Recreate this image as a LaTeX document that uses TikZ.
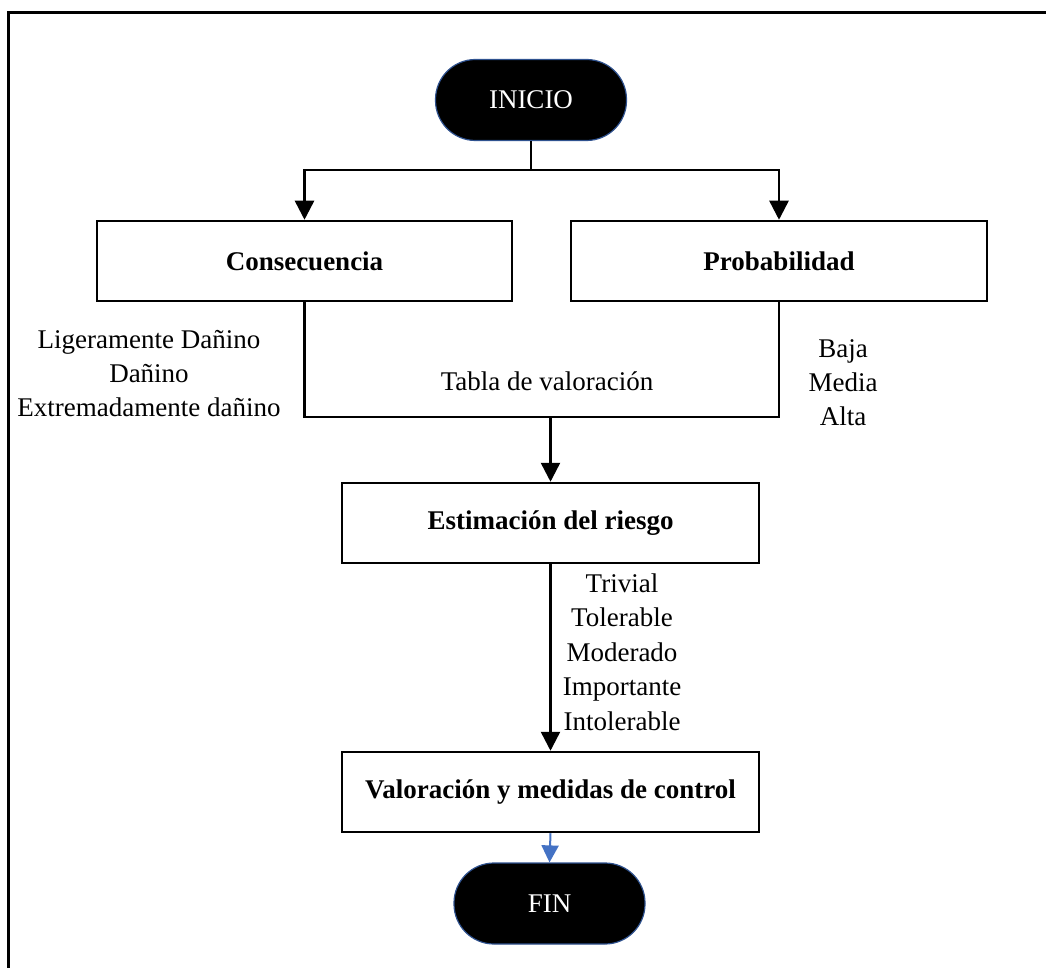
\documentclass[tikz,border=0pt]{standalone}
\usepackage{fontspec}
\setmainfont{Liberation Serif}
\usetikzlibrary{arrows.meta}
\definecolor{bluearrow}{RGB}{68,114,196}
\definecolor{termedge}{RGB}{47,82,143}
\begin{document}
\begin{tikzpicture}[x=1pt,y=-1pt,
  every node/.style={inner sep=0pt},
  stepbox/.style={draw, line width=2.5pt, minimum height=80pt, font=\fontsize{27}{34}\selectfont\bfseries},
  term/.style={draw=termedge, line width=1.2pt, fill=black, text=white, rounded corners=40pt, minimum height=81pt, font=\fontsize{27}{34}\selectfont},
  link/.style={line width=2.5pt},
  arr/.style={line width=2.5pt, -{Triangle[width=19pt,length=19pt]}},
  lst/.style={align=center, font=\fontsize{27}{34}\selectfont}]

\useasboundingbox (0,0) rectangle (1046,968);
\draw[line width=3pt] (8,968) -- (8,13) -- (1046,13);

\node[term, minimum width=191pt] (ini) at (531,100) {INICIO};
\node[stepbox, minimum width=415pt] (cons) at (304.5,261) {Consecuencia};
\node[stepbox, minimum width=416pt] (prob) at (779,261) {Probabilidad};
\node[stepbox, minimum width=417pt] (est) at (550.5,523) {Estimación del riesgo};
\node[stepbox, minimum width=417pt] (val) at (550.5,792) {Valoración y medidas de control};
\node[term, minimum width=191pt] (fin) at (549.5,903.5) {FIN};

\coordinate (split) at (531,170);
\coordinate (join) at (550.5,417);

\draw[link] (ini.south) -- (split);
\draw[arr] (split) -| (cons.north);
\draw[arr] (split) -| (prob.north);
\draw[link] (cons.south) |- (join) -| (prob.south);
\draw[arr] (join) -- (est.north);
\draw[arr] (est.south) -- (val.north);
\draw[line width=2pt, draw=bluearrow, -{Triangle[width=17pt,length=17pt]}] (val.south) -- (fin.north);

\node[lst] (tabla) at (547,381) {Tabla de valoración};
\node[lst] (conslist) at (149,374) {Ligeramente Dañino\\Dañino\\Extremadamente dañino};
\node[lst] (problist) at (843,383) {Baja\\Media\\Alta};
\node[lst, font=\fontsize{27}{34.5}\selectfont] (estlist) at (622,652) {Trivial\\Tolerable\\Moderado\\Importante\\Intolerable};
\end{tikzpicture}
\end{document}
